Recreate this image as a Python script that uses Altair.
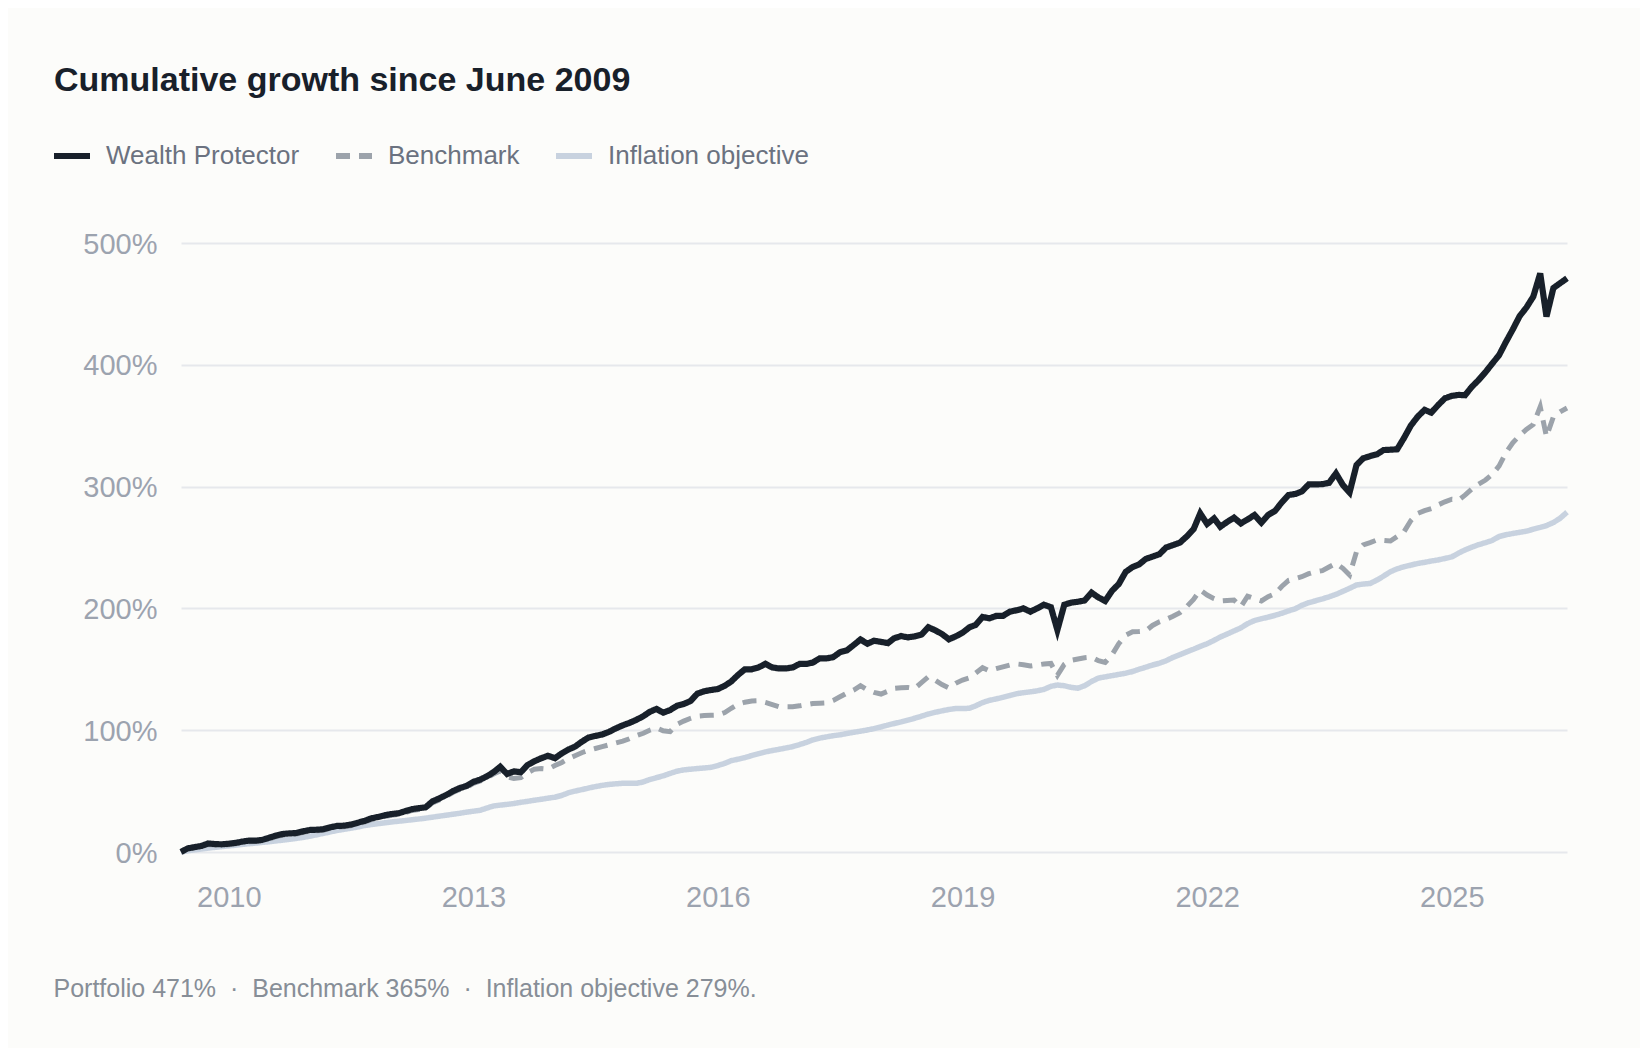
import altair as alt
import pandas as pd

# ---- data (monthly, June 2009 - June 2026, cumulative growth in %) ----
months = pd.date_range("2009-06-01", periods=205, freq="MS").strftime("%Y-%m-%dT00:00:00").tolist()

portfolio = [
    0, 3, 4, 5, 7, 6.5, 6.3, 6.8, 7.5, 8.5,
    9.3, 9.3, 10, 11.7, 13.5, 14.8, 15.3, 15.6, 17, 18.1,
    18.3, 18.7, 20.3, 21.4, 21.6, 22.5, 24, 25.5, 27.6, 28.8,
    30.2, 31.2, 31.8, 33.5, 35.2, 36, 36.7, 41.5, 44, 46.8,
    50, 52.5, 54.2, 57.6, 59.5, 62, 65.5, 70, 64, 66.2,
    65.5, 71.5, 74.5, 77, 79, 77, 81, 84, 86.5, 90.5,
    94, 95.3, 96.5, 98.7, 101.5, 104, 106, 108.5, 111.5, 115,
    117.5, 114.4, 116.5, 120, 121.5, 124, 130, 132, 133, 133.8,
    136.5, 140, 145.5, 150, 150, 151.5, 154.5, 151.5, 150.7, 150.7,
    151.5, 154.4, 154.4, 155.5, 158.9, 158.9, 160, 164, 165.5, 170,
    174.5, 171, 173.5, 172.5, 171.5, 175.5, 177.3, 176.2, 177, 178.5,
    184.5, 182, 179, 174.6, 177, 180, 184.5, 186.4, 193, 191.8,
    193.8, 193.8, 197.3, 198.5, 200, 197.3, 200, 203, 201, 182.3,
    203, 204.7, 205.5, 206.5, 212.9, 209, 206.1, 214.5, 220, 230,
    234, 236, 240.6, 242.5, 244.5, 250, 252, 254, 259, 265,
    278, 269.3, 273.9, 267.1, 271, 274.5, 269.8, 273, 276.7, 270.4,
    276.7, 280, 287, 293.1, 294, 296, 301.8, 301.8, 302, 303.1,
    310.8, 301.3, 295.2, 317.7, 323.2, 325, 326.5, 330, 330.3, 330.6,
    340, 350, 357.4, 363, 360.7, 367, 372.5, 374.5, 375.3, 375,
    382, 387.5, 394, 401, 408, 419, 429, 440, 447, 456,
    475, 439.6, 463, 467, 471,
]

benchmark = [
    0, 2.6, 3.5, 4.3, 6.2, 5.8, 5.6, 6, 6.8, 7.7,
    8.5, 8.6, 9.2, 10.8, 12.6, 13.9, 14.5, 14.8, 16.1, 17.2,
    17.5, 17.9, 19.4, 20.5, 20.8, 21.6, 23.1, 24.6, 26.6, 27.8,
    29.2, 30.2, 30.8, 32.4, 34.1, 34.9, 35.7, 40.3, 42.8, 45.6,
    48.8, 51.3, 53, 56.4, 58.3, 60.8, 64, 66.5, 61.8, 60.3,
    61, 65, 68, 68.5, 68, 71, 73.5, 76.5, 79, 81.5,
    83.5, 85, 86.5, 88, 89.5, 91, 93, 95.5, 97.5, 100,
    102, 99.5, 98.8, 104.8, 107.5, 109.8, 111.5, 112, 112.2, 112.4,
    114.5, 118, 121.5, 123, 124, 124.2, 122.8, 121, 119.2, 119.2,
    119.2, 120, 121, 121.9, 122.2, 122.5, 124.5, 127.4, 130.5, 133,
    136.5, 133, 131, 129.7, 132, 134.3, 134.8, 135.1, 134.3, 139,
    143.9, 141, 137.5, 134.8, 138.5, 141.2, 143, 147, 151.3, 148.8,
    150.5, 152, 153.5, 154.4, 153.8, 152.7, 153.5, 154.4, 154.8, 145,
    154, 157.4, 158.5, 159.5, 160, 157, 155.6, 162, 171, 178,
    180.9, 181, 181.5, 186, 189, 191, 193.5, 196.5, 201.4, 207.4,
    215.1, 211, 208, 206.1, 206.5, 206.9, 201.4, 210, 208, 206.1,
    209.6, 212, 218, 223, 224.5, 226, 228.5, 230.1, 231, 234,
    237, 232.9, 227.4, 246.5, 252.1, 254, 256.2, 255.8, 255.3, 259,
    263, 272, 278, 280.3, 282, 285, 287.5, 289.6, 289, 293,
    298, 302, 305.4, 310, 317, 328, 336, 342, 347, 351,
    365.5, 341, 357.3, 361.4, 364.5,
]

inflation = [
    0, 1, 1.8, 2.5, 3.2, 3.8, 4.4, 5, 5.6, 6.2,
    6.8, 7.3, 7.9, 8.4, 9.1, 9.8, 10.5, 11.2, 12, 13,
    14.2, 15.3, 16.5, 17.7, 18.6, 19.5, 20.5, 21.7, 22.5, 23.3,
    24, 24.7, 25.3, 25.8, 26.5, 27.1, 27.8, 28.6, 29.4, 30.2,
    31, 31.8, 32.7, 33.5, 34.3, 36, 37.8, 38.5, 39.1, 39.8,
    40.8, 41.6, 42.5, 43.3, 44.2, 45, 46.5, 48.5, 50, 51.2,
    52.5, 53.7, 54.7, 55.5, 56, 56.4, 56.4, 56.4, 57.5, 59.5,
    61, 62.5, 64.5, 66.3, 67.4, 68, 68.5, 69, 69.5, 71,
    72.8, 75, 76.2, 77.5, 79.2, 80.7, 82.2, 83.3, 84.3, 85.4,
    86.5, 88.2, 90, 92, 93.5, 94.5, 95.5, 96.2, 97.3, 98.3,
    99.2, 100.2, 101.3, 102.7, 104.2, 105.5, 106.8, 108.3, 109.8, 111.5,
    113.3, 114.7, 115.9, 117, 117.8, 117.8, 118, 120, 122.7, 124.5,
    125.7, 127, 128.5, 130, 130.8, 131.5, 132.3, 133.5, 136, 137.1,
    136.5, 135.2, 134.5, 136.5, 140, 142.8, 143.8, 144.8, 145.8, 146.8,
    148.2, 150, 151.7, 153.5, 155, 157, 159.8, 162, 164.3, 166.5,
    168.8, 171, 173.8, 176.5, 179, 181.5, 184, 187.5, 190, 191.5,
    192.8, 194.3, 196, 198, 199.8, 202.5, 204.7, 206.2, 207.8, 209.5,
    211.5, 214, 216.5, 219.2, 220, 220.5, 223.3, 226.5, 230.1, 232.5,
    234.2, 235.5, 236.9, 237.8, 238.9, 239.8, 241, 242.3, 245.5, 248,
    250.3, 252.3, 254, 255.8, 259, 260.5, 261.5, 262.5, 263.4, 265,
    266.5, 268, 270.5, 274, 279,
]

series_names = ["Wealth Protector", "Benchmark", "Inflation objective"]
series_colors = ["#18202a", "#9ca3ab", "#c8d2df"]
series_dashes = [[1, 0], [14, 9], [1, 0]]
series_widths = {"Wealth Protector": 6.2, "Benchmark": 5, "Inflation objective": 5.5}

y_ticks = [0, 100, 200, 300, 400, 500]
x_tick_years = [2010, 2013, 2016, 2019, 2022, 2025]

title_text = "Cumulative growth since June 2009"
footnote = "Portfolio 471%\u00a0\u00a0·\u00a0\u00a0Benchmark 365%\u00a0\u00a0·\u00a0\u00a0Inflation objective 279%."

rows = []
for name, vals in [("Wealth Protector", portfolio), ("Benchmark", benchmark), ("Inflation objective", inflation)]:
    for d, v in zip(months, vals):
        rows.append({"date": d, "series": name, "value": v})
df = pd.DataFrame(rows)

FONT = "Liberation Sans"

base = alt.Chart(df).encode(
    x=alt.X(
        "date:T",
        scale=alt.Scale(nice=False, padding=0),
        axis=alt.Axis(
            values=[alt.DateTime(year=y, month=1, date=1) for y in x_tick_years],
            format="%Y",
            grid=False,
            domain=False,
            ticks=False,
            tickSize=0,
            labelFontSize=29,
            labelColor="#9ca3af",
            labelFont=FONT,
            labelPadding=31,
            title=footnote,
            titleFont=FONT,
            titleFontSize=25,
            titleFontWeight="normal",
            titleColor="#878e97",
            titleAlign="left",
            titleAnchor="start",
            titleBaseline="alphabetic",
            titleX=-128,
            titleY=144,
            titleLimit=1500,
        ),
    ),
    y=alt.Y(
        "value:Q",
        scale=alt.Scale(domain=[0, 500], nice=False),
        axis=alt.Axis(
            values=y_ticks,
            labelExpr="datum.value + '%'",
            title=None,
            grid=True,
            gridColor="#e6e8ec",
            gridWidth=2,
            domain=False,
            ticks=False,
            tickSize=0,
            labelFontSize=29,
            labelColor="#9ca3af",
            labelFont=FONT,
            labelPadding=24,
            labelOffset=1,
        ),
    ),
    color=alt.Color(
        "series:N",
        scale=alt.Scale(domain=series_names, range=series_colors),
        legend=alt.Legend(
            title=None,
            orient="none",
            legendX=-130,
            legendY=-108,
            direction="horizontal",
            symbolType="stroke",
            symbolSize=1296,
            symbolStrokeWidth=6,
            symbolDash={"expr": "datum.value === 'Benchmark' ? [8, 8] : [1, 0]"},
            labelFontSize=26,
            labelFont=FONT,
            labelColor="#6b7280",
            labelOffset=13,
            labelLimit=500,
            columnPadding=24,
            padding=0,
        ),
    ),
    strokeDash=alt.StrokeDash(
        "series:N", scale=alt.Scale(domain=series_names, range=series_dashes), legend=None
    ),
)

# bottom-up drawing order: inflation, benchmark, portfolio on top
layers = [
    base.transform_filter(alt.datum.series == name).mark_line(strokeWidth=series_widths[name])
    for name in ["Inflation objective", "Benchmark", "Wealth Protector"]
]

chart = alt.layer(*layers).properties(
    width=1386,
    height=609,
    padding={"left": 173, "top": 235, "right": 73, "bottom": 196},
    autosize=alt.AutoSizeParams(type="none"),
    title=alt.TitleParams(
        title_text,
        anchor="start",
        frame="group",
        dx=-127,
        offset=10,
        baseline="alphabetic",
        fontSize=34,
        fontWeight="bold",
        font=FONT,
        color="#18202a",
    ),
).configure(
    background="#fcfcfa",
    font=FONT,
).configure_view(stroke=None)

chart.save("out.html", embed_options={"renderer": "svg", "actions": False})
